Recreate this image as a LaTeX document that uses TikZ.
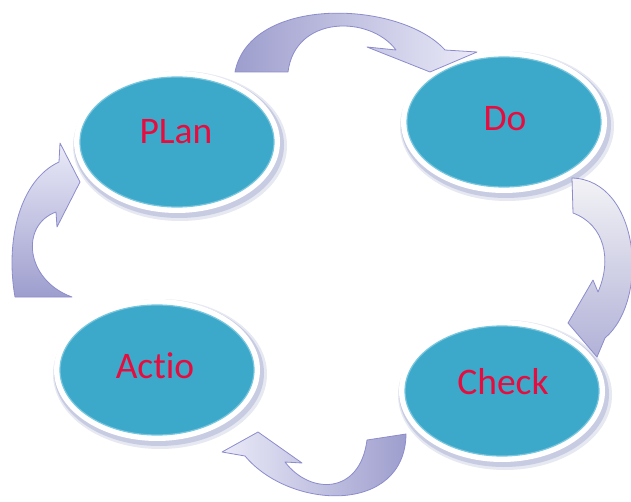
\documentclass[tikz,border=0pt]{standalone}
\usepackage{fontspec}
\setmainfont{Carlito}[Ligatures=NoCommon]
\usetikzlibrary{shapes.geometric}
\definecolor{teal1}{RGB}{60,169,202}
\definecolor{tealedge}{RGB}{120,198,222}
\definecolor{rim}{RGB}{200,204,226}
\definecolor{txt}{RGB}{232,12,62}
\definecolor{arrowline}{RGB}{140,140,205}
\definecolor{arrowdark}{RGB}{158,158,206}
\definecolor{arrowlight}{RGB}{234,234,248}
\begin{document}
\begin{tikzpicture}[x=1pt,y=-1pt,
  phase/.style={ellipse, minimum width=194pt, minimum height=130pt, inner sep=0pt,
    fill=teal1, draw=tealedge, line width=1.2pt},
  lbl/.style={font=\fontsize{37.5}{42}\selectfont, text=txt, inner sep=0pt},
  blockarrow/.style={draw=arrowline, line width=0.8pt, line join=round}]
\useasboundingbox (0,0) rectangle (631,502);
\fill[white] (0,0) rectangle (631,502);

% white rims with soft shadow
\foreach \cx/\cy in {177/142, 504/122, 157/370, 502/391} {
  \fill[rim!45] (\cx+3,\cy+4) ellipse [x radius=107pt, y radius=75pt];
  \fill[rim] (\cx+2,\cy+3) ellipse [x radius=105pt, y radius=73pt];
  \fill[white] (\cx,\cy) ellipse [x radius=103pt, y radius=71pt];
}

% phases
\node[phase] (plan)  at (177,142) {};
\node[phase] (do)    at (504,122) {};
\node[phase] (actio) at (157,370) {};
\node[phase] (check) at (502,391) {};

\node[lbl] (plantxt)  at (176,132) {PLan};
\node[lbl] (dotxt)    at (505,119) {Do};
\node[lbl] (actiotxt) at (155,366) {Actio};
\node[lbl] (checktxt) at (503,382) {Check};

% curved block arrows
% Plan -> Do
\draw[blockarrow, left color=arrowdark, right color=arrowlight]
  (235,72) -- (288,72) .. controls (295,15) and (370,15) .. (396,50)
  -- (367,47) -- (430,72) -- (477,52) -- (445,50)
  .. controls (400,0) and (250,-5) .. (235,72) -- cycle;
% Do -> Check
\draw[blockarrow, top color=arrowlight!80!gray!30, bottom color=arrowdark!80]
  (572,178) .. controls (640,180) and (650,300) .. (605,338)
  -- (597,357) -- (568,323) -- (593,280) -- (598,292)
  .. controls (612,260) and (605,225) .. (573,213) -- cycle;
% Check -> Actio
\draw[blockarrow, left color=arrowlight, right color=arrowdark]
  (406,434) .. controls (405,515) and (290,510) .. (245,456)
  -- (222,452) -- (258,432) -- (302,463) -- (285,462)
  .. controls (310,495) and (360,495) .. (367,440) -- cycle;
% Actio -> Plan
\draw[blockarrow, top color=arrowlight, bottom color=arrowdark]
  (15,297) -- (72,297) .. controls (25,280) and (20,225) .. (56,212)
  -- (57,227) -- (80,182) -- (60,143) -- (59,162)
  .. controls (20,180) and (5,240) .. (15,297) -- cycle;
\end{tikzpicture}
\end{document}
